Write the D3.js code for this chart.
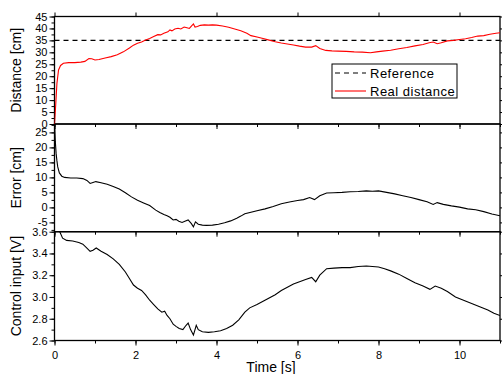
<!DOCTYPE html>
<head>
  <meta charset="utf-8">
  <title>Distance, error and control input</title>
  <script src="https://cdn.jsdelivr.net/npm/d3@7"></script>
  <style>
    body { margin: 0; background: #fff; }
    text { font-family: "Liberation Sans", Arial, sans-serif; fill: #000; }
  </style>
</head>
<body>
<div class="d3-viz"></div>
<script type="text/javascript">

 // ---- data ----
 var refDistance = 35;

 var distTime = [0, 0.03, 0.06, 0.1, 0.15, 0.22, 0.35, 0.5, 0.65, 0.75, 0.85, 0.92, 1.0, 1.1, 1.25, 1.4, 1.55, 1.7, 1.85, 1.95,
   2.05, 2.15, 2.25, 2.35, 2.45, 2.55, 2.62, 2.7, 2.8, 2.85, 2.9, 2.97, 3.05, 3.12, 3.2, 3.27, 3.33, 3.38, 3.43, 3.47,
   3.53, 3.6, 3.7, 3.8, 3.9, 4.0, 4.15, 4.3, 4.45, 4.6, 4.75, 4.85, 5.0, 5.15, 5.3, 5.45, 5.6, 5.75, 5.9, 6.05,
   6.2, 6.35, 6.45, 6.55, 6.7, 6.85, 7.0, 7.2, 7.4, 7.6, 7.8, 7.95, 8.1, 8.3, 8.5, 8.7, 8.9, 9.1, 9.25, 9.35,
   9.45, 9.55, 9.7, 9.85, 10.0, 10.15, 10.3, 10.45, 10.6, 10.75, 10.9, 11.0];
 var distValue = [0, 8, 17, 22.6, 24.5, 25.4, 25.7, 25.7, 25.9, 26.2, 27.4, 27.3, 26.8, 27.0, 27.6, 28.2, 29.0, 30.2, 31.8, 33.0,
   33.8, 34.3, 35.2, 35.8, 36.6, 37.4, 37.3, 38.0, 38.6, 39.4, 39.0, 39.8, 40.1, 39.8, 40.6, 40.3, 40.0, 41.0, 41.9, 40.6,
   40.8, 41.3, 41.5, 41.4, 41.5, 41.4, 41.0, 40.5, 39.8, 39.0, 38.0, 37.0, 36.4, 35.8, 35.1, 34.4, 33.9, 33.5, 33.1, 32.6,
   32.2, 32.2, 32.8, 31.6, 30.8, 30.6, 30.5, 30.4, 30.2, 30.1, 29.8, 30.2, 30.5, 30.9, 31.5, 32.0, 32.7, 33.3, 34.0, 34.3,
   33.6, 34.0, 34.8, 35.0, 35.4, 35.7, 36.2, 36.8, 37.0, 37.6, 38.0, 38.2];

 var errTime = [0, 0.02, 0.04, 0.06, 0.08, 0.12, 0.18, 0.25, 0.4, 0.55, 0.7, 0.8, 0.88, 0.95, 1.02, 1.15, 1.3, 1.45, 1.6, 1.75,
   1.9, 2.05, 2.2, 2.35, 2.5, 2.6, 2.7, 2.78, 2.85, 2.93, 3.0, 3.07, 3.15, 3.22, 3.3, 3.38, 3.43, 3.48, 3.55, 3.65,
   3.75, 3.9, 4.05, 4.2, 4.35, 4.5, 4.6, 4.7, 4.85, 5.0, 5.2, 5.4, 5.6, 5.8, 6.0, 6.15, 6.3, 6.42, 6.55, 6.72,
   6.9, 7.1, 7.3, 7.5, 7.7, 7.85, 8.0, 8.2, 8.4, 8.6, 8.8, 9.0, 9.2, 9.35, 9.45, 9.6, 9.8, 10.0, 10.2, 10.4,
   10.6, 10.8, 11.0];
 var errValue = [29, 22, 18, 15.5, 13.5, 11.5, 10.4, 10.0, 9.8, 9.8, 9.6, 9.0, 8.0, 8.3, 8.6, 8.2, 7.7, 7.0, 6.1, 4.9,
   3.5, 2.4, 1.5, 0.6, -0.9, -1.7, -2.4, -2.8, -3.3, -4.2, -4.0, -4.6, -5.0, -4.6, -4.2, -5.4, -6.5, -4.8, -5.6, -5.9,
   -6.0, -5.9, -5.6, -5.1, -4.5, -3.6, -2.9, -2.1, -1.6, -1.1, -0.5, 0.3, 1.2, 1.8, 2.3, 2.6, 3.3, 2.6, 3.9, 4.8,
   4.9, 5.0, 5.2, 5.3, 5.5, 5.4, 5.5, 5.0, 4.5, 3.9, 3.3, 2.6, 1.9, 1.0, 1.6, 1.0, 0.5, 0.1, -0.5, -0.8,
   -1.4, -2.2, -2.8];

 var ctrlTime = [0, 0.05, 0.13, 0.2, 0.3, 0.45, 0.6, 0.7, 0.8, 0.88, 0.95, 1.03, 1.15, 1.3, 1.45, 1.6, 1.75, 1.85, 1.95, 2.05,
   2.15, 2.25, 2.35, 2.45, 2.55, 2.65, 2.72, 2.78, 2.85, 2.93, 3.0, 3.08, 3.17, 3.25, 3.3, 3.36, 3.43, 3.5, 3.55, 3.65,
   3.8, 3.95, 4.1, 4.25, 4.4, 4.55, 4.7, 4.82, 5.0, 5.15, 5.3, 5.45, 5.6, 5.75, 5.9, 6.05, 6.2, 6.35, 6.45, 6.55,
   6.72, 6.9, 7.1, 7.3, 7.5, 7.7, 7.85, 8.0, 8.15, 8.3, 8.5, 8.7, 8.9, 9.1, 9.27, 9.4, 9.55, 9.7, 9.9, 10.1,
   10.3, 10.5, 10.7, 10.85, 11.0];
 var ctrlValue = [3.72, 3.66, 3.6, 3.54, 3.52, 3.515, 3.5, 3.485, 3.45, 3.42, 3.43, 3.45, 3.42, 3.39, 3.35, 3.3, 3.23, 3.17, 3.11, 3.08,
   3.06, 3.02, 2.97, 2.93, 2.89, 2.86, 2.87, 2.83, 2.8, 2.75, 2.73, 2.71, 2.7, 2.74, 2.76, 2.7, 2.65, 2.74, 2.7, 2.68,
   2.675, 2.68, 2.69, 2.71, 2.74, 2.79, 2.86, 2.9, 2.93, 2.96, 2.99, 3.02, 3.06, 3.09, 3.12, 3.14, 3.16, 3.18, 3.14, 3.2,
   3.26, 3.265, 3.27, 3.27, 3.28, 3.285, 3.28, 3.275, 3.26, 3.24, 3.21, 3.17, 3.13, 3.1, 3.07, 3.1, 3.08, 3.05, 3.0, 2.97,
   2.94, 2.91, 2.88, 2.85, 2.83];

 var timeTicks = [0, 2, 4, 6, 8, 10];
 var distTicks = [0, 5, 10, 15, 20, 25, 30, 35, 40, 45];
 var errTicks = [-5, 0, 5, 10, 15, 20, 25];
 var ctrlTicks = [2.6, 2.8, 3.0, 3.2, 3.4, 3.6];

 var width = 502;
 var height = 374;
 var left = 54.5, right = 500;

 var svg = d3.select(".d3-viz")
     .append("svg")
     .attr("width", width)
     .attr("height", height);

 var x = d3.scaleLinear().domain([0, 11]).range([left, right]);

 // plain hyphen for negatives, like the original plot
 var intFmt = function(d){ return String(d); };
 var oneDec = function(d){ return d.toFixed(1); };

 var panels = [
   {id: "dist", top: 16.5, bottom: 124, domain: [0, 45], ticks: distTicks, minor: 2.5, fmt: intFmt, title: "Distance [cm]"},
   {id: "err", top: 124, bottom: 231.7, domain: [-8.1, 27.8], ticks: errTicks, minor: 2.5, fmt: intFmt, title: "Error [cm]"},
   {id: "ctrl", top: 231.7, bottom: 340.5, domain: [2.6, 3.6], ticks: ctrlTicks, minor: 0.1, fmt: oneDec, title: "Control input [V]"}
 ];

 var minorTime = d3.range(0, 11.01, 1);

 panels.forEach(function(p, i){
   p.y = d3.scaleLinear().domain(p.domain).range([p.bottom, p.top]);

   svg.append("clipPath").attr("id", "clip-" + p.id)
      .append("rect")
      .attr("x", left).attr("y", p.top)
      .attr("width", right - left).attr("height", p.bottom - p.top);

   // minor y ticks
   var lo = Math.ceil(p.domain[0] / p.minor - 1e-6), hi = Math.floor(p.domain[1] / p.minor + 1e-6);
   var minorY = d3.range(lo, hi + 1).map(function(k){ return +(k * p.minor).toFixed(3); });

   svg.append("g")
      .attr("transform", "translate(" + left + ",0)")
      .call(d3.axisLeft(p.y).tickValues(minorY).tickSize(3).tickFormat(""))
      .call(function(g){ g.select(".domain").remove(); });

   svg.append("g")
      .attr("class", "y-axis")
      .attr("transform", "translate(" + left + ",0)")
      .call(d3.axisLeft(p.y).tickValues(p.ticks).tickSize(5).tickPadding(2).tickFormat(p.fmt))
      .call(function(g){ g.select(".domain").remove(); });

   // right mirror ticks
   svg.append("g")
      .attr("transform", "translate(" + right + ",0)")
      .call(d3.axisRight(p.y).tickValues(p.ticks).tickSize(5).tickFormat(""))
      .call(function(g){ g.select(".domain").remove(); });

   // bottom time ticks for each panel
   svg.append("g")
      .attr("transform", "translate(0," + p.bottom + ")")
      .call(d3.axisBottom(x).tickValues(minorTime).tickSize(3).tickFormat(""))
      .call(function(g){ g.select(".domain").remove(); });

   var xa = svg.append("g")
      .attr("class", "x-axis")
      .attr("transform", "translate(0," + p.bottom + ")")
      .call(d3.axisBottom(x).tickValues(timeTicks).tickSize(5).tickPadding(6)
            .tickFormat(i == panels.length - 1 ? intFmt : ""));
   xa.select(".domain").remove();

   // frame
   svg.append("rect")
      .attr("x", left).attr("y", p.top)
      .attr("width", right - left).attr("height", p.bottom - p.top)
      .attr("fill", "none")
      .attr("stroke", "#000")
      .attr("stroke-width", 1.3);

   svg.append("text")
      .attr("transform", "translate(21," + ((p.top + p.bottom) / 2) + ") rotate(-90)")
      .attr("text-anchor", "middle")
      .style("font-size", "14px")
      .text(p.title);
 });

 // top mirror ticks on the first panel
 svg.append("g")
    .attr("transform", "translate(0," + panels[0].top + ")")
    .call(d3.axisTop(x).tickValues(timeTicks).tickSize(4).tickFormat(""))
    .call(function(g){ g.select(".domain").remove(); });

 svg.selectAll(".tick line").attr("stroke", "#000").attr("stroke-width", 1);
 svg.selectAll(".tick text").style("font-size", "11px").attr("fill", "#000").style("font-family", "Liberation Sans, Arial, sans-serif");

 var zip = function(ts, vs){ return ts.map(function(t, k){ return [t, vs[k]]; }); };

 var drawLine = function(p, pts, color, dash){
   var line = d3.line().x(function(d){ return x(d[0]); }).y(function(d){ return p.y(d[1]); });
   svg.append("path")
      .datum(pts)
      .attr("clip-path", "url(#clip-" + p.id + ")")
      .attr("d", line)
      .attr("fill", "none")
      .attr("stroke", color)
      .attr("stroke-width", 1.1)
      .attr("stroke-dasharray", dash || null);
 };

 drawLine(panels[0], [[0, refDistance], [11, refDistance]], "#000", "5,4");
 drawLine(panels[0], zip(distTime, distValue), "#ff0000");
 drawLine(panels[1], zip(errTime, errValue), "#000");
 drawLine(panels[2], zip(ctrlTime, ctrlValue), "#000");

 // x title
 svg.append("text")
    .attr("x", 271).attr("y", 372)
    .attr("text-anchor", "middle")
    .style("font-size", "14px")
    .text("Time [s]");

 // legend
 var legend = svg.append("g").attr("transform", "translate(332,64)");
 legend.append("rect")
    .attr("width", 125).attr("height", 34)
    .attr("fill", "#fff").attr("stroke", "#000").attr("stroke-width", 1);
 var items = [{label: "Reference", color: "#000", dash: "5,4"}, {label: "Real distance", color: "#ff0000", dash: null}];
 items.forEach(function(it, k){
   var yy = 9 + k * 18;
   legend.append("line")
      .attr("x1", 3).attr("x2", 34).attr("y1", yy).attr("y2", yy)
      .attr("stroke", it.color).attr("stroke-width", 1.1)
      .attr("stroke-dasharray", it.dash);
   legend.append("text")
      .attr("x", 38).attr("y", yy).attr("dy", "0.35em")
      .style("font-size", "13px")
      .style("letter-spacing", "0.5px")
      .text(it.label);
 });

</script>
</body>
